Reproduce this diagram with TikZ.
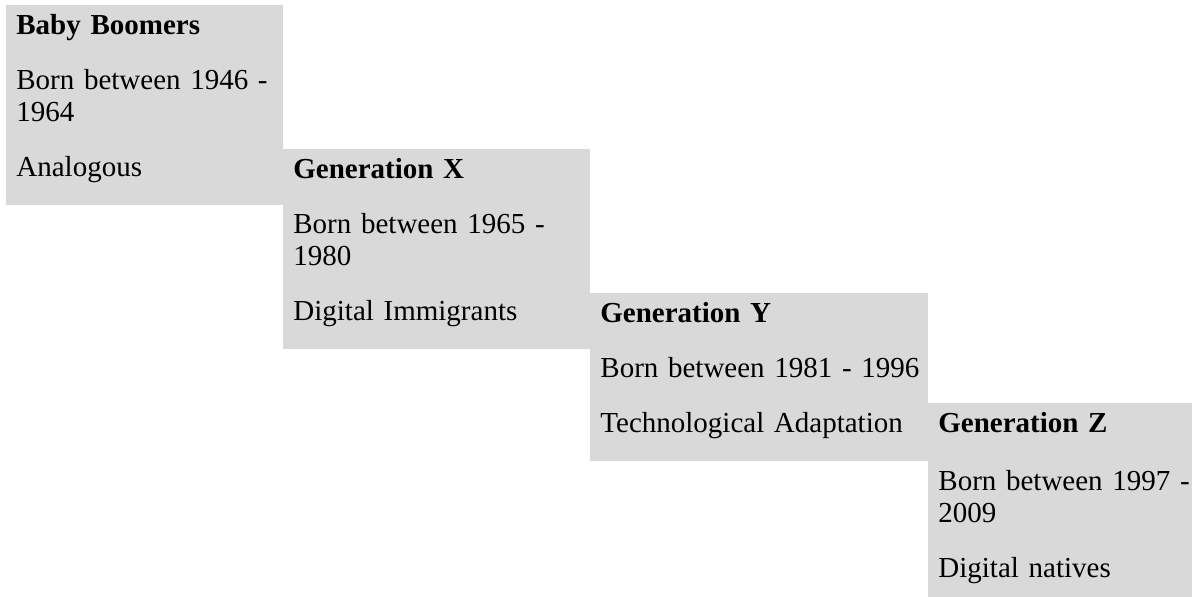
\documentclass[tikz,border=0pt]{standalone}
\usepackage{fontspec}
\setmainfont{Liberation Serif}
\definecolor{genfill}{HTML}{D9D9D9}
\newcommand{\spread}[1]{\makebox[\hsize][s]{#1}}
\newcommand{\lastline}[1]{#1\rule[-14pt]{0pt}{0pt}}

\begin{document}
\begin{tikzpicture}
		\tikzset{gen/.style = {anchor=north west, fill=genfill, align=left, inner xsep=5pt, inner ysep=0pt, text height=14.75pt, font=\fontsize{14.5}{16}\selectfont}}
		\useasboundingbox (0,0) rectangle (596pt,-298.5pt);
		% generations
		\node[gen, text width=128.5pt] (boomers) at (3pt,-2.5pt) {\textbf{Baby Boomers}\\[11.5pt]\spread{Born between 1946 -}\\1964\\[11.5pt]\lastline{Analogous}};
		\node[gen, text width=143.5pt] (genx) at (141.5pt,-74.5pt) {\textbf{Generation X}\\[11.5pt]\spread{Born between 1965 -}\\1980\\[11.5pt]\lastline{Digital Immigrants}};
		\node[gen, text width=159pt] (geny) at (295pt,-146.5pt) {\textbf{Generation Y}\\[11.5pt]\mbox{Born between 1981 - 1996}\\[11.5pt]\lastline{Technological Adaptation}};
		\node[gen, text width=124.5pt] (genz) at (464pt,-201.5pt) {\textbf{Generation Z}\\[13pt]\spread{Born between 1997 -}\\2009\\[11.5pt]\lastline{Digital natives}};
\end{tikzpicture}
\end{document}
